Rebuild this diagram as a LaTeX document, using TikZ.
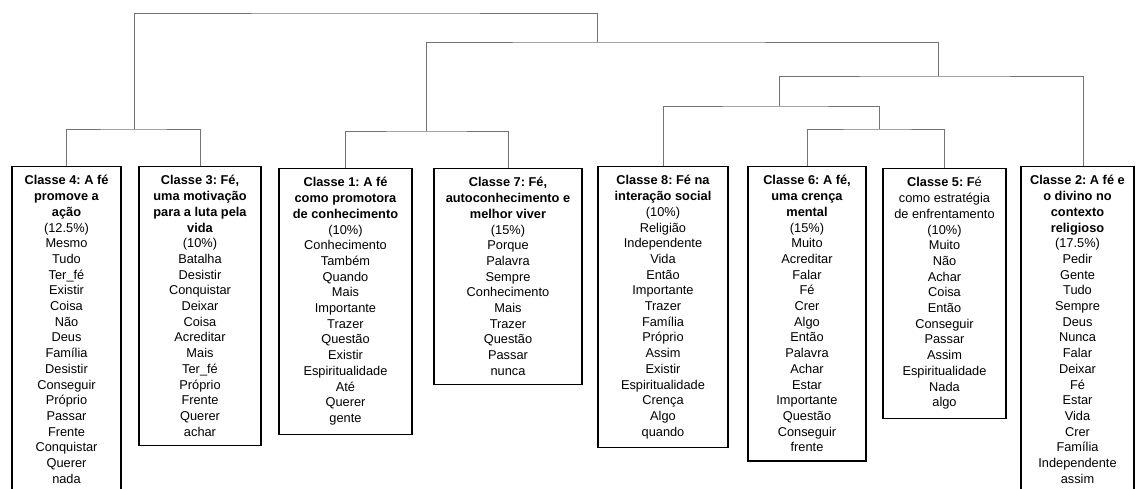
\documentclass[tikz,border=0pt]{standalone}
\usepackage{fontspec}
\setmainfont{Liberation Sans}
\frenchspacing

\begin{document}
\begin{tikzpicture}[x=1pt, y=-1pt,
	classe/.style={draw, line width=1.1pt, rectangle, anchor=north, align=center, inner xsep=2pt, inner ysep=9pt, font=\fontsize{12.8}{15.7}\selectfont},
	ramo/.style={draw=black!55, line width=0.9pt}]
						\useasboundingbox (0,0) rectangle (1136,488);
						\node[classe, minimum width=109pt, text depth=14pt] (c4) at (66.5,166) {\textbf{Classe 4: A fé}\\\textbf{promove a}\\\textbf{ação}\\(12.5\%)\\Mesmo\\Tudo\\Ter\_fé\\Existir\\Coisa\\Não\\Deus\\Família\\Desistir\\Conseguir\\Próprio\\Passar\\Frente\\Conquistar\\Querer\\nada};
						\node[classe, minimum width=122pt] (c3) at (200,166) {\textbf{Classe 3: Fé,}\\\textbf{uma motivação}\\\textbf{para a luta pela}\\\textbf{vida}\\(10\%)\\Batalha\\Desistir\\Conquistar\\Deixar\\Coisa\\Acreditar\\Mais\\Ter\_fé\\Próprio\\Frente\\Querer\\achar};
						\node[classe, minimum width=133pt] (c1) at (345.5,168) {\textbf{Classe 1: A fé}\\\textbf{como promotora}\\\textbf{de conhecimento}\\(10\%)\\Conhecimento\\Também\\Quando\\Mais\\Importante\\Trazer\\Questão\\Existir\\Espiritualidade\\Até\\Querer\\gente};
						\node[classe, minimum width=148pt] (c7) at (508,168) {\textbf{Classe 7: Fé,}\\\textbf{autoconhecimento e}\\\textbf{melhor viver}\\(15\%)\\Porque\\Palavra\\Sempre\\Conhecimento\\Mais\\Trazer\\Questão\\Passar\\nunca};
						\node[classe, minimum width=130pt] (c8) at (663,166) {\textbf{Classe 8: Fé na}\\\textbf{interação social}\\(10\%)\\Religião\\Independente\\Vida\\Então\\Importante\\Trazer\\Família\\Próprio\\Assim\\Existir\\Espiritualidade\\Crença\\Algo\\quando};
						\node[classe, minimum width=118pt] (c6) at (807,166) {\textbf{Classe 6: A fé,}\\\textbf{uma crença}\\\textbf{mental}\\(15\%)\\Muito\\Acreditar\\Falar\\Fé\\Crer\\Algo\\Então\\Palavra\\Achar\\Estar\\Importante\\Questão\\Conseguir\\frente};
						\node[classe, minimum width=123pt] (c5) at (944.5,168) {\textbf{Classe 5: F}é\\como estratégia\\de enfrentamento\\(10\%)\\Muito\\Não\\Achar\\Coisa\\Então\\Conseguir\\Passar\\Assim\\Espiritualidade\\Nada\\algo};
						\node[classe, minimum width=113pt, text depth=14pt] (c2) at (1077.5,166) {\textbf{Classe 2: A fé e}\\\textbf{o divino no}\\\textbf{contexto}\\\textbf{religioso}\\(17.5\%)\\Pedir\\Gente\\Tudo\\Sempre\\Deus\\Nunca\\Falar\\Deixar\\Fé\\Estar\\Vida\\Crer\\Família\\Independente\\assim};
						\coordinate (s43) at (134,129);
						\coordinate (s17) at (426,131);
						\coordinate (s65) at (879,129);
						\coordinate (s865) at (779,106);
						\coordinate (s2) at (938,76);
						\coordinate (sR) at (597,42);
						\coordinate (raiz) at (365,13);
						\draw[ramo] (c4.north) |- (s43) -| (c3.north);
						\draw[ramo] (c1.north) |- (s17) -| (c7.north);
						\draw[ramo] (c6.north) |- (s65) -| (c5.north);
						\draw[ramo] (c8.north) |- (s865) -| (s65);
						\draw[ramo] (s865) |- (s2) -| ([xshift=5.5pt]c2.north);
						\draw[ramo] (s17) |- (sR) -| (s2);
						\draw[ramo] (s43) |- (raiz) -| (sR);

					\end{tikzpicture}
\end{document}
